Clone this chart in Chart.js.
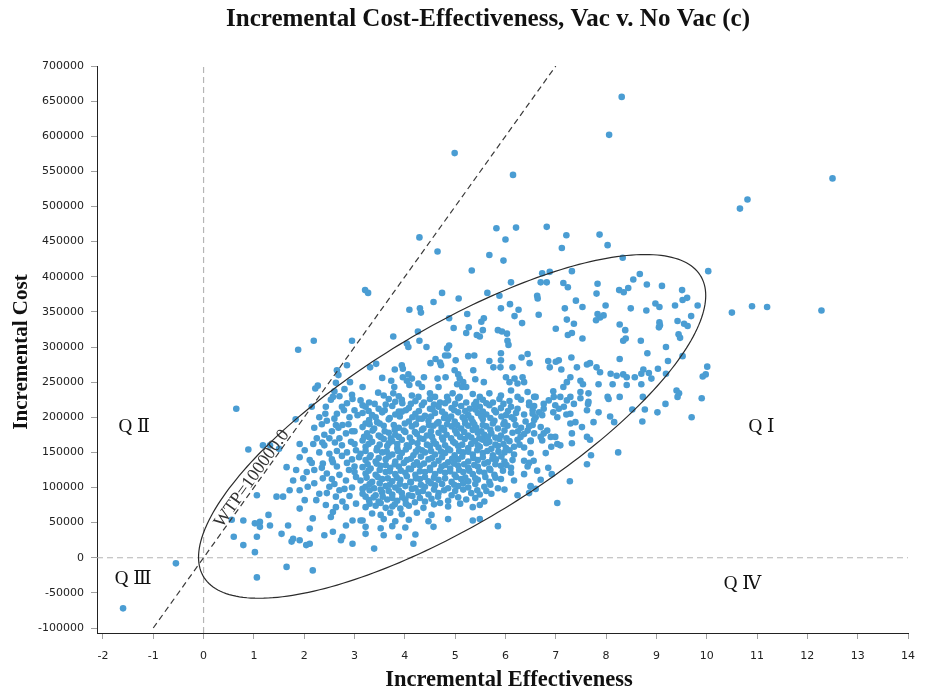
<!DOCTYPE html>
<html><head><meta charset="utf-8">
<script src="https://cdn.jsdelivr.net/npm/chart.js@4.4.1/dist/chart.umd.min.js"></script>
<style>html,body{margin:0;padding:0;background:#fff}#wrap{width:926px;height:691px}</style>
</head><body><div id="wrap"><canvas id="c" width="926" height="691"></canvas></div>
<script>
// ---------- DATA ----------
const chartTitle = 'Incremental Cost-Effectiveness, Vac v. No Vac (c)';
const xTitle = 'Incremental Effectiveness';
const yTitle = 'Incremental Cost';
const effTicks = [-2,-1,0,1,2,3,4,5,6,7,8,9,10,11,12,13,14];
const costTicks = [-100000,-50000,0,50000,100000,150000,200000,250000,300000,350000,400000,450000,500000,550000,600000,650000,700000];
const wtpLabel = 'WTP=100000.0';
const wtpLine = [[-1,-100000],[7,700000]];
const zeroCostLine = [[-2.118,0],[14,0]];
const zeroEffLine = [[0,-107117],[0,700000]];
const quadLabels = [['Q \u2161',-1.38,185800],['Q \u2160',11.09,185800],['Q \u2162',-1.40,-30600],['Q \u2163',10.71,-37700]];
// confidence ellipse: centre and conjugate semi-axes (effect, cost)
const ellipseCentre = [4.94,187000];
const ellipseAxisA = [5.04,186300];
const ellipseAxisB = [0,158600];

// [incremental effectiveness, incremental cost]
const ptsOutlier = [[8.31,656000],[8.06,602000],[4.99,576000],[6.15,545000],[12.5,540000],[10.81,510000],[10.66,497000],
 [12.28,352000],[11.2,357000],[10.9,358000],[10.5,349000],[10.03,408000],[-0.55,-8000],[-1.6,-72000],[0.65,212000]];
const ptsUpper = [[4.29,456000],[5.82,469000],[6.21,470000],[6.82,471000],[7.21,459000],[7.87,460000],[6.0,453000],
 [7.12,441000],[8.03,445000],[8.33,427000],[4.65,436000],[5.68,431000],[5.96,423000]];
const ptsMidUpper = [[5.33,409000],[6.11,392000],[3.21,381000],[3.27,377000],[4.74,377000],[5.64,377000],[5.88,373000],[5.07,369000],
 [4.57,364000],[4.09,353000],[4.30,355000],[4.32,349000],[6.09,361000],[5.91,355000],[6.26,353000],[6.18,344000],[6.33,334000],
 [5.24,347000],[4.88,341000],[5.57,341000],[5.52,336000],[4.97,327000],[5.27,328000],[5.22,320000],[5.55,324000],[5.43,317000],
 [5.49,315000],[5.85,324000],[5.93,322000],[6.03,319000],[6.04,309000],[6.06,303000],[4.26,322000],[3.77,315000],[4.29,309000],
 [4.04,305000],[4.07,300000],[4.43,300000],[4.88,302000],[4.84,298000],[3.31,271000],[3.43,276000],[3.80,268000],[3.94,274000],
 [3.96,269000],[4.51,277000],[4.61,283000],[4.70,278000],[4.72,274000],[4.80,288000],[4.86,288000],[5.01,281000],[5.26,287000],
 [5.38,288000],[5.68,280000],[5.76,271000],[5.91,291000],[5.91,281000],[5.90,271000],[6.14,271000],[6.32,285000],[6.44,290000],
 [6.48,277000],[3.16,243000],[3.55,256000],[3.73,252000],[3.79,243000],[3.77,234000],[3.96,257000],[4.07,261000],[4.04,252000],
 [4.14,255000],[4.09,246000],[4.27,248000],[4.34,243000],[4.38,257000],[4.65,255000],[4.67,243000],[4.81,257000],[4.99,267000],
 [5.06,261000],[5.09,255000],[5.16,250000],[5.14,243000],[5.22,243000],[5.04,247000],[5.36,267000],[5.40,254000],[5.57,250000],
 [6.01,257000],[6.08,250000],[6.18,255000],[6.24,248000],[6.34,257000],[6.37,250000],[3.47,235000],[3.58,231000],[3.88,230000],
 [4.14,231000],[4.27,229000],[4.50,234000],[4.60,229000],[4.84,229000],[4.95,234000],[5.09,229000],[5.35,233000],[5.49,229000],
 [5.68,234000],[5.91,231000],[6.11,238000],[6.24,229000],[6.44,236000],[6.60,229000],
 [1.88,296000],[2.19,309000],[2.95,309000],[2.85,274000],[2.65,267000],[2.68,260000],[2.63,249000],[2.27,245000],[2.22,241000],
 [2.91,250000],[2.60,237000],[2.70,230000],[2.53,225000]];
const ptsRight = [[6.73,405000],[6.88,407000],[6.70,392000],[6.82,392000],[7.32,408000],[7.15,391000],[7.24,385000],[7.83,390000],
 [8.54,396000],[8.67,404000],[8.81,389000],[9.11,387000],[7.81,376000],[8.26,381000],[8.35,378000],[8.44,384000],[9.51,381000],
 [9.52,367000],[9.61,370000],[6.63,373000],[6.64,369000],[7.40,366000],[7.53,357000],[7.18,355000],[7.99,359000],[8.49,355000],
 [8.80,352000],[8.98,362000],[9.06,357000],[9.37,359000],[9.82,359000],[6.66,346000],[7.83,347000],[7.88,342000],[7.80,338000],
 [7.95,345000],[7.22,339000],[7.36,333000],[8.27,332000],[9.06,335000],[9.05,328000],[9.07,331000],[9.42,337000],[9.55,333000],
 [9.62,330000],[9.69,344000],[7.00,326000],[8.38,324000],[7.24,317000],[7.32,320000],[7.53,312000],[9.44,318000],[9.47,313000],
 [8.34,309000],[8.39,312000],[8.69,309000],[9.19,300000],[8.82,291000],[9.52,287000],[7.31,285000],[8.27,283000],[6.85,280000],
 [7.0,279000],[7.06,281000],[9.23,280000],[6.88,271000],[7.11,268000],[7.42,271000],[7.62,275000],[7.68,277000],[7.81,271000],
 [7.88,264000],[8.09,262000],[8.21,259000],[8.34,261000],[8.41,257000],[8.57,257000],[8.70,262000],[8.74,268000],[8.85,263000],
 [9.03,269000],[9.19,262000],[7.29,257000],[7.22,250000],[7.49,252000],[7.54,247000],[7.15,243000],[7.85,247000],[8.13,247000],
 [8.41,246000],[8.70,247000],[8.90,255000],[6.95,237000],[7.29,229000],[7.49,236000],[7.65,234000],[8.03,229000],[8.27,229000],
 [8.73,229000],[9.98,261000],[9.92,258000],[10.01,272000],[9.90,227000],[9.70,200000],[9.40,238000],[9.45,234000],[9.42,229000],
 [9.18,219000],[9.02,207000],[8.72,194000],[8.77,211000],[8.24,150000],[8.52,211000],[8.08,201000],[8.16,193000],[7.85,207000],
 [7.75,193000],[7.64,219000],[7.62,210000],[7.52,186000],[7.62,172000],[7.68,168000],[8.05,226000],
 [7.70,146000],[7.62,133000],[7.28,109000],[7.03,78000],[6.92,119000],[6.85,128000],[6.70,111000],[6.60,98000],[6.50,101000],
 [6.63,124000],[6.56,138000],[6.47,135000],[6.80,149000],[6.91,158000],[7.03,162000],[7.09,160000],[7.32,163000],[7.32,177000],
 [7.29,191000],[7.39,193000],[7.29,205000],[7.16,215000],[7.21,204000],[6.99,217000],[7.06,212000],[7.03,200000],[6.95,207000],
 [7.09,229000],[6.96,229000],[6.86,224000],[6.76,219000],[6.76,212000],[6.73,203000],[6.70,186000],[6.76,177000],[6.83,181000],
 [6.70,172000],[6.73,167000],[6.90,172000],[6.99,172000],[6.54,189000],[6.44,181000],[6.50,167000],[6.54,210000],[6.47,217000],
 [6.57,229000],[6.60,200000],[6.67,207000],[7.22,224000],[7.36,219000],[7.49,227000],[7.65,222000]];
const ptsLeft = [[1.83,197000],[0.89,154000],[1.18,160000],[1.32,160000],[1.50,155000],[1.91,162000],[2.01,153000],[1.91,143000],
 [2.18,162000],[2.36,164000],[2.11,139000],[2.37,134000],[2.50,148000],[2.57,136000],[2.61,164000],[2.76,189000],[2.83,177000],
 [2.63,189000],[2.93,165000],[3.03,153000],[3.09,143000],[3.19,172000],[3.22,191000],[3.06,203000],[3.16,217000],[2.96,226000],
 [2.79,210000],[2.57,229000],[2.43,215000],[1.65,129000],[1.84,125000],[1.98,113000],[1.78,110000],[2.07,101000],[2.20,106000],
 [2.30,91000],[2.37,113000],[2.50,101000],[2.63,87000],[2.70,96000],[2.83,110000],[2.89,125000],[3.03,115000],[3.16,98000],
 [3.22,87000],[3.03,77000],[2.83,72000],[2.63,72000],[2.43,75000],[2.24,82000],[2.01,82000],[1.91,96000],[1.71,96000],
 [1.58,87000],[1.45,87000],[1.29,61000],[1.12,51000],[1.02,49000],[0.79,53000],[0.60,30000],[0.79,18000],[1.06,30000],
 [1.32,46000],[1.55,34000],[1.68,46000],[1.75,23000],[1.91,25000],[2.04,18000],[2.11,20000],[2.17,56000],[2.40,32000],
 [2.57,37000],[2.76,30000],[2.83,46000],[2.96,20000],[3.12,53000],[3.22,34000],[1.65,-13000],[1.02,8000],[2.17,-18000],
 [1.06,-28000],[0.56,54000],[1.12,44000],[1.06,89000],[1.78,27000],[1.91,70000],[2.11,41500],[2.73,25000],[2.96,53000],
 [2.57,65000],[2.76,80000],[2.53,58000],
 [2.20,125000],[2.45,120000],[2.65,130000],[2.30,150000],[2.75,145000],[2.95,140000],[2.40,175000],[2.55,180000],[2.20,185000],
 [2.90,200000],[2.65,205000],[2.30,200000],[2.75,160000],[2.95,180000],[2.45,195000],[2.15,215000],[2.85,220000],[3.00,130000],
 [2.55,112000],[2.95,100000],
 [2.45,92000],[2.60,105000],[2.80,98000],[2.90,88000],[2.35,128000],[2.55,140000],[2.70,118000],[2.85,135000],[3.00,122000],
 [2.40,160000],[2.65,152000],[2.85,150000],[3.00,162000],[2.50,170000],[2.70,170000],[2.88,190000],[2.60,198000],[2.35,190000],
 [2.75,215000],[3.00,210000],[2.95,232000],[2.42,205000],[2.80,240000],[3.00,180000],[2.68,185000],[2.25,170000],[2.15,135000],
 [2.05,122000]];
const ptsCore = [
 [3.12,224000],[3.29,221000],[3.68,226000],[3.81,222000],[3.94,225000],[4.21,223000],[4.50,226000],[4.70,221000],[4.86,224000],[5.06,227000],[5.42,222000],[5.55,225000],[5.75,221000],[5.88,226000],[6.08,223000],[6.31,225000],[6.47,221000],
 [3.22,215000],[3.48,212000],[3.75,216000],[4.08,213000],[4.34,217000],[4.50,212000],[4.67,215000],[4.93,213000],[5.12,216000],[5.29,212000],[5.49,215000],[5.68,217000],[5.91,213000],[6.11,215000],[6.24,212000],[6.57,216000],
 [3.16,206000],[3.35,203000],[3.55,207000],[3.81,204000],[3.94,208000],[4.21,205000],[4.40,202000],[4.60,206000],[4.80,204000],[5.06,207000],[5.26,203000],[5.45,206000],[5.62,204000],[5.81,207000],[6.01,203000],[6.21,206000],[6.37,204000],[6.54,205000],
 [3.29,196000],[3.45,193000],[3.68,197000],[4.08,194000],[4.27,198000],[4.47,195000],[4.67,193000],[4.86,197000],[4.99,194000],[5.19,196000],[5.35,193000],[5.55,197000],[5.78,195000],[5.98,193000],[6.17,197000],[6.40,194000],[6.57,196000],
 [3.16,186000],[3.39,184000],[3.58,188000],[3.88,185000],[4.14,187000],[4.37,184000],[4.57,188000],[4.73,185000],[4.93,187000],[5.12,184000],[5.26,188000],[5.42,185000],[5.62,187000],[5.85,184000],[6.04,188000],[6.31,185000],[6.47,187000],
 [3.25,177000],[3.48,174000],[3.68,178000],[3.81,175000],[4.01,179000],[4.24,176000],[4.44,174000],[4.67,178000],[4.83,175000],[5.03,177000],[5.26,174000],[5.45,178000],[5.58,175000],[5.72,177000],[5.91,174000],[6.14,178000],[6.37,176000],[6.57,177000],
 [3.16,167000],[3.35,165000],[3.58,169000],[3.75,166000],[3.94,168000],[4.14,165000],[4.37,169000],[4.57,166000],[4.76,168000],[4.96,165000],[5.19,169000],[5.39,166000],[5.55,168000],[5.68,165000],[5.88,169000],[6.08,166000],[6.24,168000],[6.50,166000],
 [3.22,158000],[3.45,156000],[3.65,159000],[3.85,156000],[4.08,158000],[4.27,155000],[4.50,159000],[4.67,157000],[4.86,155000],[5.06,159000],[5.26,156000],[5.49,158000],[5.72,155000],[5.85,159000],[6.01,156000],[6.17,158000],[6.37,157000],
 [3.12,148000],[3.32,146000],[3.55,150000],[3.75,147000],[3.94,149000],[4.17,146000],[4.40,150000],[4.60,147000],[4.80,149000],[4.99,146000],[5.16,150000],[5.35,147000],[5.55,149000],[5.75,146000],[5.98,150000],[6.17,147000],[6.50,149000],
 [3.22,139000],[3.42,137000],[3.62,140000],[3.81,137000],[4.04,139000],[4.24,136000],[4.47,140000],[4.67,138000],[4.86,136000],[5.06,140000],[5.26,137000],[5.45,139000],[5.65,136000],[5.81,140000],[5.98,137000],[6.14,139000],[6.37,138000],
 [3.16,129000],[3.32,127000],[3.52,131000],[3.71,128000],[3.88,130000],[4.08,127000],[4.30,131000],[4.50,128000],[4.73,130000],[4.90,127000],[5.06,131000],[5.26,128000],[5.45,130000],[5.68,127000],[5.91,131000],[6.11,128000],[6.44,130000],
 [3.22,120000],[3.42,118000],[3.62,122000],[3.81,119000],[4.01,121000],[4.21,118000],[4.40,122000],[4.60,119000],[4.80,121000],[4.99,118000],[5.16,122000],[5.35,119000],[5.58,121000],[5.78,118000],[6.11,121000],[6.37,119000],
 [3.12,110000],[3.35,108000],[3.55,112000],[3.75,109000],[3.91,111000],[4.11,108000],[4.30,112000],[4.47,109000],[4.67,111000],[4.93,108000],[5.12,112000],[5.26,109000],[5.45,111000],[5.68,108000],[5.91,112000],[6.17,110000],
 [3.22,101000],[3.39,99000],[3.62,102000],[3.81,100000],[4.01,102000],[4.21,99000],[4.40,101000],[4.60,103000],[4.86,99000],[5.06,102000],[5.26,100000],[5.58,101000],[5.85,99000],[6.50,102000],
 [3.16,91000],[3.42,89000],[3.55,93000],[3.75,90000],[3.94,92000],[4.08,89000],[4.27,93000],[4.47,90000],[4.67,92000],[4.93,89000],[5.32,92000],[5.49,90000],[5.72,91000],[6.24,89000],[6.47,92000],
 [3.29,82000],[3.48,80000],[3.65,83000],[3.85,81000],[4.01,83000],[4.40,80000],[4.53,84000],[4.86,81000],[5.22,83000],[5.58,80000],
 [3.22,72000],[3.42,74000],[3.62,71000],[3.75,73000],[3.91,70000],[4.08,74000],[4.37,71000],[4.86,73000],[5.35,72000],[5.49,75000],
 [3.35,63000],[3.52,61000],[3.71,64000],[3.94,62000],[4.24,64000],[4.53,61000],
 [3.16,53000],[3.58,55000],[3.81,52000],[4.08,54000],[4.47,52000],[4.86,55000],[5.35,53000],[5.49,55000],
 [3.22,44000],[3.52,42000],[3.75,45000],[4.01,43000],[4.57,44000],[5.85,45000],
 [3.58,32000],[3.88,30000],[4.21,33000],[4.17,20000],[3.39,13000]];
const ptsCoreDense = [
 [3.40,219000],[3.62,218000],[3.95,220000],[4.12,219000],[4.38,221000],[4.58,218000],[4.80,220000],[5.00,219000],[5.22,221000],[5.38,218000],[5.62,220000],[5.96,219000],
 [3.28,209000],[3.60,210000],[3.88,208000],[4.02,210000],[4.28,209000],[4.55,211000],[4.74,208000],[4.98,210000],[5.20,209000],[5.40,211000],[5.55,208000],[5.78,210000],[6.05,209000],
 [3.42,200000],[3.70,199000],[3.90,201000],[4.15,200000],[4.34,198000],[4.52,201000],[4.78,199000],[4.92,201000],[5.15,200000],[5.32,198000],[5.52,201000],[5.70,199000],[5.92,201000],[6.12,200000],
 [3.30,190000],[3.50,191000],[3.78,189000],[4.00,191000],[4.22,190000],[4.48,189000],[4.64,191000],[4.84,190000],[5.04,189000],[5.20,191000],[5.38,190000],[5.55,189000],[5.75,191000],[5.96,190000],[6.20,189000],
 [3.36,181000],[3.60,180000],[3.80,182000],[3.98,181000],[4.20,179000],[4.34,182000],[4.52,180000],[4.78,182000],[5.00,181000],[5.18,179000],[5.35,182000],[5.52,180000],[5.70,182000],[5.98,181000],[6.25,180000],
 [3.30,171000],[3.52,172000],[3.72,170000],[3.88,172000],[4.10,171000],[4.30,170000],[4.54,172000],[4.74,171000],[4.92,170000],[5.10,172000],[5.32,171000],[5.48,170000],[5.65,172000],[5.80,171000],[6.02,170000],[6.30,172000],
 [3.28,162000],[3.50,161000],[3.68,163000],[3.85,162000],[4.04,160000],[4.25,163000],[4.44,161000],[4.62,162000],[4.80,160000],[5.00,163000],[5.14,161000],[5.32,162000],[5.45,160000],[5.62,163000],[5.80,161000],[5.96,162000],[6.28,161000],
 [3.22,152000],[3.44,153000],[3.64,151000],[3.86,152000],[4.02,154000],[4.22,151000],[4.34,153000],[4.52,152000],[4.72,151000],[4.90,153000],[5.08,152000],[5.26,151000],[5.44,153000],[5.64,152000],[5.86,151000],[6.08,153000],
 [3.30,143000],[3.48,142000],[3.68,144000],[3.90,143000],[4.12,141000],[4.32,144000],[4.54,142000],[4.74,143000],[4.94,141000],[5.14,144000],[5.36,142000],[5.55,143000],[5.74,141000],[5.92,144000],
 [3.26,133000],[3.44,134000],[3.62,132000],[3.80,133000],[3.98,135000],[4.18,132000],[4.38,134000],[4.58,133000],[4.80,132000],[4.98,134000],[5.18,133000],[5.38,132000],[5.58,134000],[5.80,133000],[6.02,132000],
 [3.28,124000],[3.50,125000],[3.70,123000],[3.92,124000],[4.12,126000],[4.30,123000],[4.50,125000],[4.70,124000],[4.90,123000],[5.08,125000],[5.28,124000],[5.48,123000],[5.70,125000],[5.95,124000],
 [3.24,114000],[3.46,115000],[3.66,113000],[3.84,114000],[4.04,116000],[4.22,113000],[4.40,115000],[4.58,114000],[4.80,113000],[5.02,115000],[5.20,114000],[5.40,113000],[5.60,115000],[5.80,114000],
 [3.30,105000],[3.50,106000],[3.70,104000],[3.90,105000],[4.12,107000],[4.32,104000],[4.52,106000],[4.74,105000],[4.98,104000],[5.16,106000],[5.40,105000],[5.70,104000],
 [3.30,96000],[3.52,97000],[3.68,95000],[3.88,96000],[4.14,98000],[4.36,95000],[4.58,97000],[4.78,96000],[5.00,95000],[5.16,97000],[5.44,96000],[5.62,95000],[5.98,97000],
 [3.38,86000],[3.56,87000],[3.75,85000],[3.95,86000],[4.15,88000],[4.30,85000],[4.66,87000],[5.06,86000],[5.40,85000],
 [3.30,77000],[3.52,78000],[3.80,76000],[4.02,77000],[4.20,79000],[4.58,76000],[4.70,78000],[5.10,77000]];

// ---------- CHART ----------
const allPts = [...ptsOutlier, ...ptsUpper, ...ptsMidUpper, ...ptsRight, ...ptsLeft, ...ptsCore, ...ptsCoreDense].map(p => ({x:p[0], y:p[1]}));
const toXY = arr => arr.map(p => ({x:p[0], y:p[1]}));
const serif = '"Liberation Serif","Times New Roman","DejaVu Serif",serif';

const overlay = {
  id: 'overlay',
  afterDatasetsDraw(chart) {
    const {ctx, scales:{x, y}} = chart;
    // ellipse
    const cx = x.getPixelForValue(ellipseCentre[0]), cy = y.getPixelForValue(ellipseCentre[1]);
    const ax = x.getPixelForValue(ellipseCentre[0] + ellipseAxisA[0]) - cx;
    const ay = y.getPixelForValue(ellipseCentre[1] + ellipseAxisA[1]) - cy;
    const bx = x.getPixelForValue(ellipseCentre[0] + ellipseAxisB[0]) - cx;
    const by = y.getPixelForValue(ellipseCentre[1] + ellipseAxisB[1]) - cy;
    ctx.save();
    ctx.beginPath();
    for (let i = 0; i <= 240; i++) {
      const t = i / 240 * Math.PI * 2;
      const px = cx + ax * Math.cos(t) + bx * Math.sin(t);
      const py = cy + ay * Math.cos(t) + by * Math.sin(t);
      if (i === 0) ctx.moveTo(px, py); else ctx.lineTo(px, py);
    }
    ctx.closePath();
    ctx.strokeStyle = '#2b2b2b';
    ctx.lineWidth = 1.2;
    ctx.stroke();
    ctx.restore();
    // WTP label along the line
    const p0x = x.getPixelForValue(wtpLine[0][0]), p0y = y.getPixelForValue(wtpLine[0][1]);
    const p1x = x.getPixelForValue(wtpLine[1][0]), p1y = y.getPixelForValue(wtpLine[1][1]);
    const ang = Math.atan2(p1y - p0y, p1x - p0x);
    ctx.save();
    ctx.translate(x.getPixelForValue(0.96), y.getPixelForValue(112700));
    ctx.rotate(ang);
    ctx.font = '18px ' + serif;
    ctx.fillStyle = '#333';
    ctx.textAlign = 'center';
    ctx.textBaseline = 'middle';
    ctx.fillText(wtpLabel, 0, 0);
    ctx.restore();
    // quadrant labels
    ctx.save();
    ctx.font = '19px ' + serif;
    ctx.fillStyle = '#111';
    ctx.textAlign = 'center';
    ctx.textBaseline = 'middle';
    quadLabels.forEach(q => ctx.fillText(q[0], x.getPixelForValue(q[1]), y.getPixelForValue(q[2])));
    ctx.restore();
  },
  afterDraw(chart) {
    const {ctx} = chart;
    ctx.save();
    ctx.fillStyle = '#111';
    ctx.textAlign = 'center';
    ctx.textBaseline = 'middle';
    ctx.font = 'bold 25px ' + serif;
    ctx.fillText(chartTitle, 488, 20);
    ctx.font = 'bold 22.5px ' + serif;
    ctx.fillText(xTitle, 509, 680);
    ctx.font = 'bold 21px ' + serif;
    ctx.translate(22, 352);
    ctx.rotate(-Math.PI / 2);
    ctx.fillText(yTitle, 0, 0);
    ctx.restore();
  }
};

const tickFont = {family: '"DejaVu Sans","Liberation Sans",sans-serif', size: 11};

new Chart(document.getElementById('c'), {
  type: 'scatter',
  data: {
    datasets: [
      {data: allPts, backgroundColor: '#4a9dd3', borderWidth: 0, pointRadius: 3.3, order: 3},
      {data: toXY(zeroCostLine), showLine: true, borderColor: '#b5b5b5', borderWidth: 1.2, borderDash: [6,4], pointRadius: 0, order: 5},
      {data: toXY(zeroEffLine), showLine: true, borderColor: '#b5b5b5', borderWidth: 1.2, borderDash: [6,4], pointRadius: 0, order: 5},
      {data: toXY(wtpLine), showLine: true, borderColor: '#3a3a3a', borderWidth: 1.2, borderDash: [6,4], pointRadius: 0, order: 1}
    ]
  },
  options: {
    responsive: false,
    animation: false,
    devicePixelRatio: 1,
    layout: {padding: {top: 66, right: 12, bottom: 0, left: 0}},
    plugins: {legend: {display: false}, tooltip: {enabled: false}, title: {display: false}},
    scales: {
      x: {
        type: 'linear', min: -2.118, max: 14,
        afterBuildTicks: s => { s.ticks = effTicks.map(v => ({value: v})); },
        afterFit: s => { s.height = 58; },
        grid: {display: true, drawOnChartArea: false, drawTicks: true, tickLength: 6, color: '#a0a0a0'},
        border: {display: true, color: '#222', width: 1},
        ticks: {font: tickFont, color: '#222', padding: 11, maxRotation: 0, autoSkip: false}
      },
      y: {
        type: 'linear', min: -107117, max: 700000,
        afterBuildTicks: s => { s.ticks = costTicks.map(v => ({value: v})); },
        afterFit: s => { s.width = 97; },
        grid: {display: true, drawOnChartArea: false, drawTicks: true, tickLength: 6, color: '#a0a0a0'},
        border: {display: true, color: '#222', width: 1},
        ticks: {font: tickFont, color: '#222', padding: 7, autoSkip: false, callback: v => String(v)}
      }
    }
  },
  plugins: [overlay]
});
</script></body></html>
